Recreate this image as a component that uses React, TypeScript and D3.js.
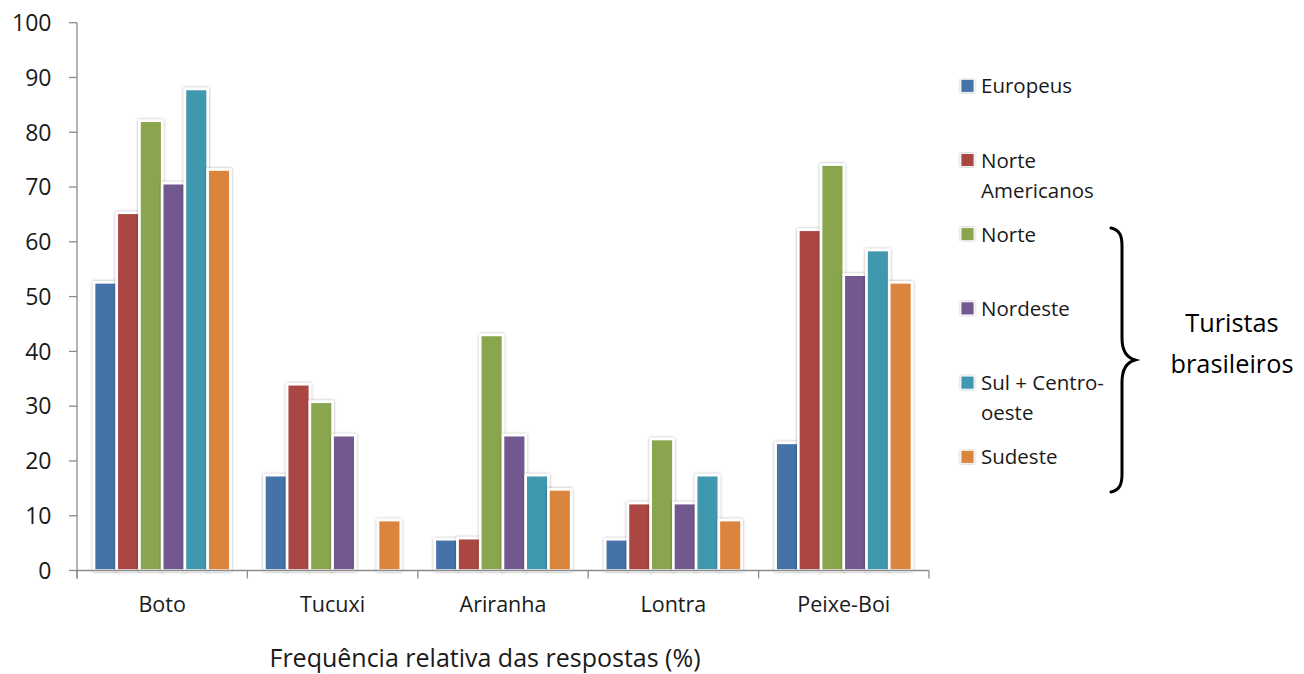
import React from "react";
import * as d3 from "d3";

const categories = ["Boto", "Tucuxi", "Ariranha", "Lontra", "Peixe-Boi"];
const seriesNames = ["Europeus", "Norte\nAmericanos", "Norte", "Nordeste", "Sul + Centro-\noeste", "Sudeste"];
const europeus = [52.6, 17.4, 5.7, 5.7, 23.3];
const norteAmericanos = [65.3, 34.0, 5.9, 12.3, 62.2];
const norte = [82.1, 30.8, 43.0, 24.0, 74.1];
const nordeste = [70.7, 24.7, 24.7, 12.3, 54.0];
const sulCentroOeste = [87.9, 0, 17.4, 17.4, 58.5];
const sudeste = [73.2, 9.2, 14.8, 9.2, 52.6];
const yTicks = [0, 10, 20, 30, 40, 50, 60, 70, 80, 90, 100];
const xTitle = "Frequência relativa das respostas (%)";
const braceLabel = ["Turistas", "brasileiros"];

const seriesValues = [europeus, norteAmericanos, norte, nordeste, sulCentroOeste, sudeste];
const colors = ["#4572A7", "#AA4643", "#89A54E", "#71588F", "#4198AF", "#DB843D"];

const W = 1304;
const H = 674;
const X0 = 77;
const X1 = 929;
const Y0 = 570.5;
const Y100 = 22.7;
const FONT = "'Open Sans', sans-serif";
const TEXT = "#1a1a1a";
const AXIS = "#8c8c8c";

export default function App() {
  const x = d3.scaleBand<string>().domain(categories).range([X0, X1]).padding(0);
  const xs = d3
    .scaleBand<number>()
    .domain(d3.range(seriesNames.length))
    .range([0, x.bandwidth()])
    .paddingInner(0)
    .paddingOuter(0.75);
  const y = d3.scaleLinear().domain([0, 100]).range([Y0, Y100]);

  const boundaries = categories.map((c) => x(c)!).concat([X1]);

  const legendBase = 93.3;
  const legendStep = 74.2;

  const bx = 1122;
  const top = 228;
  const mid = 360;
  const bot = 492;
  const bracePath = `M1111,${top} C1120,${top + 2} 1122,${top + 8} ${bx},${top + 18} L${bx},${mid - 22} C${bx},${mid - 8} 1128,${mid - 2} 1135,${mid} C1128,${mid + 2} ${bx},${mid + 8} ${bx},${mid + 22} L${bx},${bot - 18} C1122,${bot - 8} 1120,${bot - 2} 1111,${bot}`;

  return (
    <svg
      width={W}
      height={H}
      style={{ position: "absolute", left: 0, top: 0, background: "#fff" }}
      fontFamily={FONT}
    >
      <defs>
        <filter id="sh" x="-30%" y="-10%" width="160%" height="120%">
          <feDropShadow dx="0" dy="0" stdDeviation="1.6" floodColor="#000" floodOpacity="0.35" />
        </filter>
      </defs>
      <rect x={0} y={0} width={W} height={H} fill="#fff" />

      {/* bars */}
      {categories.map((c, ci) => (
        <g key={c} transform={`translate(${x(c)},0)`}>
          {seriesValues.map((vals, si) =>
            vals[ci] > 0 ? (
              <rect
                key={si}
                x={xs(si)!}
                y={y(vals[ci])}
                width={xs.bandwidth()}
                height={Y0 - y(vals[ci])}
                fill={colors[si]}
                stroke="#fff"
                strokeWidth={2.6}
                filter="url(#sh)"
              />
            ) : null
          )}
        </g>
      ))}

      {/* y axis */}
      <line x1={X0} x2={X0} y1={Y100} y2={Y0 + 8} stroke={AXIS} strokeWidth={1.3} />
      {yTicks.map((t) => (
        <g key={t}>
          <line x1={X0 - 8} x2={X0} y1={y(t)} y2={y(t)} stroke={AXIS} strokeWidth={1.3} />
          <text
            x={51.5}
            y={y(t)}
            dy="0.36em"
            textAnchor="end"
            fontSize={23}
            fill={TEXT}
          >
            {t}
          </text>
        </g>
      ))}

      {/* x axis */}
      <line x1={X0} x2={X1} y1={Y0} y2={Y0} stroke={AXIS} strokeWidth={1.3} />
      {boundaries.map((b, i) => (
        <line key={i} x1={b} x2={b} y1={Y0} y2={Y0 + 8} stroke={AXIS} strokeWidth={1.3} />
      ))}
      {categories.map((c) => (
        <text
          key={c}
          x={x(c)! + x.bandwidth() / 2}
          y={611.7}
          textAnchor="middle"
          fontSize={21.5}
          fill={TEXT}
        >
          {c}
        </text>
      ))}
      <text x={(267 + 703) / 2} y={667} textAnchor="middle" fontSize={25} fill={TEXT}>
        {xTitle}
      </text>

      {/* legend */}
      {seriesNames.map((name, i) => {
        const base = legendBase + i * legendStep;
        const lines = name.split("\n");
        return (
          <g key={i}>
            <rect
              x={961}
              y={base - 14}
              width={13}
              height={13}
              fill={colors[i]}
              stroke="#fff"
              strokeWidth={0.8}
              filter="url(#sh)"
            />
            {lines.map((ln, li) => (
              <text key={li} x={981} y={base + li * 30} fontSize={20.5} fill={TEXT}>
                {ln}
              </text>
            ))}
          </g>
        );
      })}

      {/* brace */}
      <path d={bracePath} fill="none" stroke="#000" strokeWidth={3} strokeLinecap="round" />
      {braceLabel.map((t, i) => (
        <text key={i} x={1232} y={331.7 + i * 41.6} textAnchor="middle" fontSize={25.3} fill="#000">
          {t}
        </text>
      ))}
    </svg>
  );
}
